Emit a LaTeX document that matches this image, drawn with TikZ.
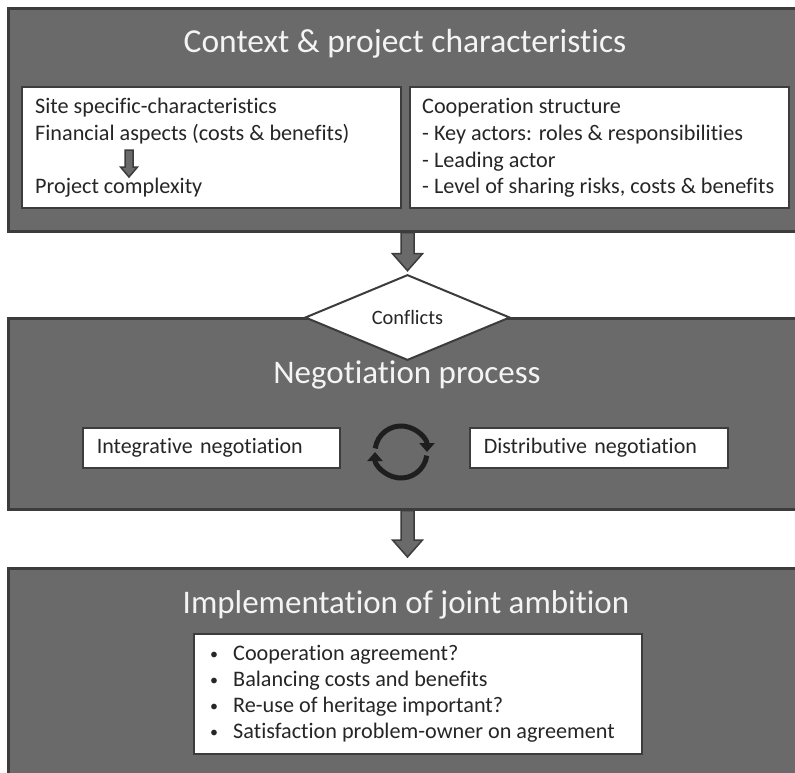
\documentclass[tikz,border=0pt]{standalone}
\usepackage{fontspec}
\setmainfont{Carlito}[Ligatures={NoCommon}]
\usetikzlibrary{shapes.geometric,arrows.meta,calc}
\definecolor{panelgray}{HTML}{6A6A6A}
\definecolor{edgegray}{HTML}{3C3C3C}
\definecolor{textdark}{HTML}{262626}
\definecolor{titlewhite}{HTML}{F4F4F4}
\definecolor{icondark}{HTML}{1E1E1E}
% block arrow: #1 start point, #2 tip point, #3 shaft half width, #4 head half width, #5 head length
\newcommand{\blockarrow}[5]{%
  \draw[blkarr] let \p1=#1, \p2=#2 in
    (\x1-#3,\y1) -- (\x1-#3,\y2+#5) -- (\x1-#4,\y2+#5) -- (\x2,\y2)
    -- (\x1+#4,\y2+#5) -- (\x1+#3,\y2+#5) -- (\x1+#3,\y1) -- cycle;}
\begin{document}
\begin{tikzpicture}[x=1pt,y=-1pt,
  panel/.style={draw=edgegray, fill=panelgray, line width=2.5pt, rectangle, inner sep=0pt, anchor=north west},
  whitebox/.style={draw=edgegray, fill=white, line width=1.5pt, rectangle, inner sep=0pt, anchor=north west},
  textbox/.style={whitebox, inner xsep=14pt, align=left, text=textdark, font=\fontsize{22}{26}\selectfont},
  body/.style={font=\fontsize{22.2}{26}\selectfont, text=textdark, inner sep=0pt, anchor=base west},
  ttl/.style={font=\fontsize{33.5}{40}\selectfont, text=titlewhite, inner sep=0pt, anchor=base},
  ttlb/.style={ttl, font=\fontsize{33}{38}\selectfont},
  blkarr/.style={draw=edgegray, fill=panelgray, line width=1.5pt, line join=miter},
  cyc/.style={draw=icondark, line width=5pt, -{Triangle[width=15pt,length=9pt]}}]

\useasboundingbox (0,0) rectangle (795,772);
\clip (0,0) rectangle (795,772);

% panels
\node[panel, minimum width=793pt, minimum height=223pt] (p1) at (7,7) {};
\node[panel, minimum width=793pt, minimum height=191pt] (p2) at (7,317) {};
\node[panel, minimum width=793pt, minimum height=215pt] (p3) at (7,567) {};

% titles
\node[ttl] (t1) at (405,52) {Context \& project characteristics};
\node[ttlb] (t2) at (407,383) {Negotiation process};
\node[ttlb] (t3) at (406,613) {Implementation of joint ambition};

% top inner boxes
\node[whitebox, minimum width=379pt, minimum height=121pt] (lb) at (21,86) {};
\node[whitebox, minimum width=379pt, minimum height=121pt] (rb) at (409,86) {};

\node[body] (l1) at (35,113) {Site specific-characteristics};
\node[body] (l2) at (35,140) {Financial aspects (costs \& benefits)};
\node[body] (l3) at (35,193) {Project complexity};
\blockarrow{($(l2.base west)+(94,10)$)}{($(l3.base west)+(94,-16)$)}{4}{8.5}{10}

\node[body] (r1) at (422,113) {Cooperation structure};
\node[body] (r2) at (422,140) {- Key actors: roles \& responsibilities};
\node[body] (r3) at (422,167) {- Leading actor};
\node[body] (r4) at (422,193) {- Level of sharing risks, costs \& benefits};

% conflicts diamond
\node[diamond, draw=edgegray, fill=white, line width=2pt, minimum width=205pt,
      minimum height=79pt, inner sep=0pt, text=textdark,
      font=\fontsize{20.4}{22}\selectfont] (cf) at (407.5,317.5) {Conflicts};
\blockarrow{(cf.north |- p1.south)}{($(cf.north)+(0,-3)$)}{6.5}{15}{17}

% negotiation boxes
\node[textbox, minimum width=257pt, minimum height=40pt, text width=229pt] (ib) at (82,427) {Integrative negotiation};
\node[textbox, minimum width=258pt, minimum height=40pt, text width=230pt] (db) at (469,427) {Distributive negotiation};

% cycle icon
\begin{scope}[shift={(401,452)}, yscale=-1]
  \draw[cyc] (172:26) arc[start angle=172, end angle=0, radius=26];
  \draw[cyc] (-8:26) arc[start angle=-8, end angle=-180, radius=26];
\end{scope}

\blockarrow{(cf.north |- p2.south)}{($(cf.north |- p3.north)+(0,-10)$)}{6.5}{15}{17}

% implementation box
\node[whitebox, minimum width=448pt, minimum height=120pt] (ob) at (193,633) {};
\foreach \i/\t in {0/Cooperation agreement?, 1/Balancing costs and benefits, 2/Re-use of heritage important?, 3/Satisfaction problem-owner on agreement}{
  \node[body, font=\fontsize{16}{20}\selectfont] (bl\i) at (210,659+26*\i) {•};
  \node[body] (bt\i) at (233,660+26*\i) {\t};
}
\end{tikzpicture}
\end{document}
